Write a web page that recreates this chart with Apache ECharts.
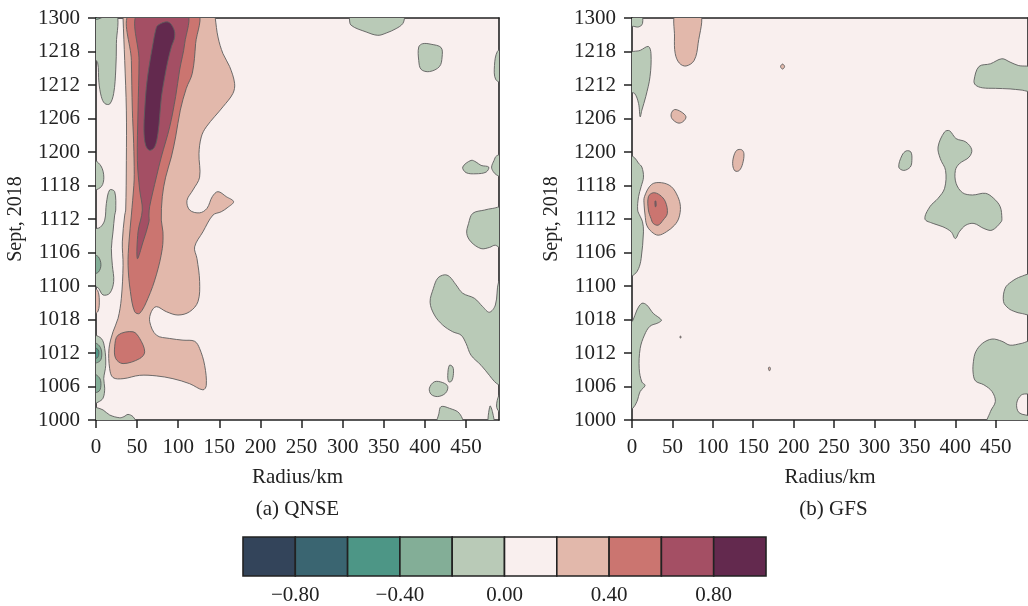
<!DOCTYPE html>
<html>
<head>
<meta charset="utf-8">
<script src="https://cdn.jsdelivr.net/npm/echarts@6/dist/echarts.min.js"></script>
<style>
  html, body { margin: 0; padding: 0; background: #ffffff; }
  #chart { width: 1028px; height: 606px; }
</style>
</head>
<body>
<div id="chart"></div>
<script>
// ---- axes ----
const RADIUS_MAX = 490;                       // km
const RADIUS_TICKS = [0, 50, 100, 150, 200, 250, 300, 350, 400, 450];
const HOURS_MAX = 72;                         // 10 Sept 00 UTC .. 13 Sept 00 UTC
const TIME_LABELS = ['1000', '1006', '1012', '1018', '1100', '1106', '1112',
                     '1118', '1200', '1206', '1212', '1218', '1300'];

// ---- colour levels ----
const LEVEL_BOUNDS = [-1.0, -0.8, -0.6, -0.4, -0.2, 0.0, 0.2, 0.4, 0.6, 0.8, 1.0];
const LEVEL_COLORS = ['#33445a', '#3a6571', '#4d9686', '#83ae97', '#b9cab7',
                      '#f9efee', '#e2b8ab', '#cb7570', '#a44f64', '#63294e'];
const CBAR_LABELS = [-0.8, -0.4, 0.0, 0.4, 0.8];

// ---- (a) QNSE: contour regions, points are [radius km, hours since 1000] ----
const qGreenTop = [[-3,73],[24,73],[24.8,67.4],[24,62.7],[21.5,58.5],[16.7,56.6],[10.6,56.7],[6.5,57.9],[3.5,60.5],[2,64],[-3,65]];
const qTealTop = [[-3,73.5],[10,73.5],[10.5,72.6],[6,72],[-3,71.8]];
const qGreenMid1 = [[-3,46.5],[6,45.5],[9.5,43.5],[6.5,41.8],[-3,41.3]];
const qGreenMid2 = [[16.6,41.2],[22.7,40.9],[24,37.6],[22.7,36.7],[20.7,33.7],[18.7,30.7],[19.9,27.7],[21.5,24.8],[16.7,22.7],[8.5,22.4],[3,23.6],[-3,24.3],[-3,34],[5,34.5],[10.6,35.8],[12.6,38.8]];
const qTealMid = [[-3,29.5],[3,29.2],[6,27.8],[3,26.5],[-3,26.3]];
const qSalmonEdge = [[-3,23.6],[2,23.2],[4,21.5],[2.5,19.5],[-3,19]];
const qGreenLow = [[-3,15],[6.5,14.6],[10.6,12.8],[11.8,9.8],[9.4,7.4],[10.6,5.7],[8.5,3.9],[2.5,3.2],[-3,3]];
const qTealLow1 = [[-3,13.8],[4,13.3],[7,12],[5,10.6],[-3,10.3]];
const qTealLow1b = [[-3,13],[2.5,12.6],[3.5,12],[2,11.2],[-3,11]];
const qTealLow2 = [[-3,8.2],[4,7.6],[6,6.5],[4,5.2],[-3,5]];
const qGreenBottom = [[-3,2.3],[1,2.2],[8.6,1.8],[16.6,0.9],[28.8,0.4],[34,0.6],[38.9,1.0],[45,0.6],[49,-0.3],[52,-1],[-3,-1]];
const qGreenTopRight1 = [[307,73],[308,72],[310.2,70.7],[328.5,69.5],[342.6,68.9],[352.8,69.3],[364.9,70.1],[373,71],[375.5,72.3],[376,73]];
const qGreenTopRight2 = [[392.4,64.4],[392.4,66.8],[397.3,67.4],[407.4,67.3],[419.6,66.7],[420.8,65],[417.6,63.3],[405.4,62.4],[395.3,62.8]];
const qGreenEdge1 = [[495,66.5],[488,66],[484.5,63.5],[486,61],[495,60.5]];
const qGreenMidRight = [[445.9,45.3],[456,46.5],[462.1,46.2],[468.2,45.6],[477.5,45.3],[474.3,44.4],[462.1,44.1],[450,44.3]];
const qGreenEdge2 = [[481,45.3],[484,46.5],[487,47.3],[495,47.5],[495,43.5],[487,43.9],[483,44.5]];
const qGreenEdge3 = [[458,37],[472.2,37.6],[482.4,37.9],[495,38],[495,30.5],[485.6,31.3],[478.3,30.9],[468.2,30.7],[456,31.9],[450.8,33.4],[453,35.2]];
const qGreenBig = [[423.6,26],[415.5,25.4],[410.3,23.6],[406.2,21.1],[411.5,18.8],[421.6,17],[433.8,15.8],[443.9,15.2],[450,13.7],[456,11.6],[468.2,9.8],[478.3,8],[484.4,6.9],[489.6,6.3],[495,6],[495,25],[489.6,24.8],[485.6,20.6],[478.3,19.3],[470.2,20.3],[460.1,21.8],[445.9,22.7],[437.8,24.2],[429.7,25.7]];
const qGreenEll = [[429.7,9.8],[433.8,9.5],[434.6,8.3],[432.5,7.0],[428.9,6.85],[427.7,8.0]];
const qGreenBlob = [[405.4,5.7],[411.5,6.85],[421.6,6.7],[427.7,6.0],[424.9,4.8],[415.5,4.2],[407.4,4.6]];
const qGreenBottomRight = [[417,1.2],[419.6,2.4],[429.7,2.1],[441.8,1.2],[446,-1],[415,-1]];
const qGreenSliver1 = [[477,-1],[479,2.5],[482,1.5],[484,-1]];
const qGreenSliver2 = [[495,5.5],[490,4.5],[487,2.5],[490,1.5],[495,1]];
const qLightSalmon = [[144.2,73],[145,72],[148.3,68.6],[154.4,65.6],[162.5,63.3],[168.5,60.3],[166.5,58.5],[154.4,56.1],[134.1,52.5],[128,50.7],[125.2,47.7],[126,43.5],[117.9,41.2],[110.6,39.3],[113.9,37.6],[126,37.1],[134.9,37.9],[141.4,40],[148.3,40.9],[158.4,40],[167.3,39.1],[160.4,38.1],[152.3,37.3],[142.2,36.7],[130,33.7],[119.9,31],[122.8,28.9],[126,24.8],[124,21.2],[113.9,19.4],[99.7,18.8],[85.5,19.4],[73.4,20.3],[67.3,19.4],[65.3,17.6],[73.4,15.2],[89.6,14.6],[105.8,14.3],[119.9,14.1],[126,12.8],[132.1,9.8],[134.1,6.2],[130,5.4],[113.9,6.5],[93.6,7.4],[73.4,7.9],[53.1,8.0],[32.9,7.4],[20.7,7.6],[16.6,9.2],[15.8,12.8],[20.7,15.8],[26.8,18.2],[30.8,21.8],[32.9,27.7],[32,31.9],[34.9,36.7],[36.1,37.6],[36.9,46.5],[36.9,55.5],[34.9,64.4],[32.9,72],[33,73]];
const qSalmon = [[122.8,73],[121.1,67.4],[117.1,62.1],[109.8,59.4],[102.5,55.5],[96.8,50.7],[91.6,47.1],[84.7,43.5],[80.6,40],[79.4,35.8],[81.4,33.7],[80.6,30.7],[73.4,26],[63.2,21.8],[53.1,19.1],[47,19.4],[41.8,23],[39,27.7],[40.1,31.9],[43,36.7],[46,42],[46.5,44],[45.8,49.5],[44.2,55.5],[43,64.4],[41.8,73]];
const qRose = [[51.1,73],[52.3,64.4],[51.1,55.5],[50.3,46.5],[53.1,41.2],[56.3,37.6],[51.1,33.7],[50.3,28.9],[57.2,31.9],[64.4,35.5],[64.4,36.7],[65.2,38.2],[73.4,43.5],[79.4,47.1],[89.6,52.5],[96.8,57.9],[101.7,62.7],[107.8,67.4],[109.8,73]];
const qPurple = [[75.3,70.7],[87.5,71.3],[94.4,70.1],[95.6,68.6],[91.6,66.8],[87.5,64.4],[83.5,61.4],[79.5,57.8],[77.4,54.3],[75.3,51.3],[71.3,48.9],[65.2,48.3],[60.4,49.2],[58.3,51.9],[59.2,55.5],[61.2,59.6],[64.4,63.2],[69.3,67.4],[72.5,69.8]];
const qSalmonLow = [[22.7,13.1],[26.8,15.2],[45,15.8],[53.1,14.6],[59.2,12.2],[53.1,11.0],[32.9,10.1],[24,11.0]];

// level index (into LEVEL_COLORS) and outline of every filled region, drawn in order
const QNSE_REGIONS = [
  [4, qGreenTop], [3, qTealTop], [4, qGreenMid1], [4, qGreenMid2], [3, qTealMid],
  [6, qSalmonEdge], [4, qGreenLow], [3, qTealLow1], [2, qTealLow1b], [3, qTealLow2],
  [4, qGreenBottom], [4, qGreenTopRight1], [4, qGreenTopRight2], [4, qGreenEdge1],
  [4, qGreenMidRight], [4, qGreenEdge2], [4, qGreenEdge3], [4, qGreenBig], [4, qGreenEll],
  [4, qGreenBlob], [4, qGreenBottomRight], [4, qGreenSliver1], [4, qGreenSliver2],
  [6, qLightSalmon], [7, qSalmon], [8, qRose], [9, qPurple], [7, qSalmonLow]
];

// ---- (b) GFS ----
const gGreenTL = [[-3,73],[11,73],[13,71],[8.1,70.4],[2,70.5],[-3,70.6]];
const gGreenLeft1 = [[-3,65.6],[10.1,66.2],[20.3,66.9],[23.5,65.6],[22.3,61.5],[17,57.9],[12.2,55.5],[10.1,54.3],[8.1,56.7],[3.2,58.5],[-3,58.8]];
const gGreenLeft2 = [[-3,47.3],[3,47],[8,46],[12.2,45.3],[14.2,43.5],[11.3,41.8],[8.1,40],[7,37.6],[10,36.5],[13,35.5],[14.2,33.7],[11.3,28.9],[8.1,27.1],[3.2,26.1],[-3,25.8]];
const gGreenLeft3 = [[-3,17.3],[1,17.8],[6.1,19.7],[12.2,20.9],[18.2,20.6],[26.3,19.1],[36.4,17.9],[32.4,17.4],[22.3,16.8],[15.4,15.2],[10.1,12.8],[8.9,9.2],[12.2,6.8],[16.2,6.2],[10.1,5.1],[6.1,3.3],[1,2.1],[-3,2]];
const gGreenTR = [[423.2,60.8],[429.3,63.3],[443.5,63.8],[457.7,64.7],[467.8,64.1],[477.9,63.5],[495,63],[495,59],[481.5,59.1],[467.8,59.3],[449.6,59.4],[433.4,59.5],[425,60]];
const gGreenSmall = [[330.1,45.3],[334.1,47.4],[339.4,48.2],[345.1,48],[346.3,46.5],[344.3,45.3],[336.2,44.7]];
const gGreenBig = [[378.7,48.9],[386.8,51.6],[392.9,51.8],[401,50.4],[413.1,49.8],[420.4,48.4],[417.2,47.1],[405,45.9],[400.1,44.7],[401,42.4],[409.1,40.7],[421.2,40.3],[437.4,40.6],[447.5,39.7],[455.6,38.2],[457.7,36.1],[456.8,35.5],[445.5,34],[435.4,34.3],[423.2,35.2],[413.1,34.9],[405,33.7],[400.1,32.5],[394.9,33.7],[384.8,34.6],[372.6,35.2],[362.5,36],[368.6,38.2],[378.7,39.7],[386.8,41.5],[388,44.7],[381.5,46.8]];
const gGreenRight = [[459.7,21.2],[461.7,23.6],[469.8,24.8],[481.5,25.7],[495,26],[495,19],[481.5,19.1],[473.9,19.4],[465.8,20]];
const gGreenBottomRight = [[422,8.6],[422.5,10.5],[425.3,12.2],[433.4,13.7],[445.5,14.5],[457.7,14.1],[467.8,13.4],[481.5,13.7],[495,14],[495,5],[482,4.5],[476,3],[479,1.3],[495,0.5],[495,-1],[439.4,-1],[443.5,1.5],[449.6,3.3],[445.5,5.1],[435.4,6.3],[425,7]];
const gLS1 = [[54.7,73],[52.6,68.6],[53.5,65.6],[58.7,63.9],[66.8,63.4],[76.9,64.4],[81.8,67.4],[84.2,73]];
const gLS2 = [[48.6,54.9],[52.6,55.6],[60.8,55.2],[66.8,54.3],[62.8,53.4],[56.7,53.2],[49.4,54]];
const gLS3 = [[183.8,63.3],[186.3,63.75],[188.8,63.3],[186.3,62.85]];
const gLS4 = [[125.6,47.1],[129.6,48.3],[135.7,48.4],[138.5,47.7],[136.9,45.9],[132.8,44.7],[127.6,44.6],[124.7,45.6]];
const gLS5 = [[15.4,40],[24.3,42.2],[36.5,42.5],[48.6,41.8],[56.7,40],[59.9,38.2],[58,36.2],[52.7,34.9],[42.5,33.7],[32.4,33.1],[24.3,33.7],[18.2,34.9],[16.2,36.7],[15,38.5]];
const gS5 = [[20.3,40],[26.3,40.7],[34.4,40.3],[41.3,39.1],[43.7,37],[38.5,35.8],[32.4,34.9],[26.3,35.2],[23.5,36.1],[20.3,37.6]];
const gR5 = [[28.5,39.2],[29.5,39.2],[29.8,38.3],[28.8,38.2]];
const gDot1 = [[59.5,15],[60.5,15],[60.5,14.7],[59.5,14.7]];
const gDot2 = [[168.8,9.3],[170.1,9.5],[171.3,9.2],[170.1,8.8]];

const GFS_REGIONS = [
  [4, gGreenTL], [4, gGreenLeft1], [4, gGreenLeft2], [4, gGreenLeft3], [4, gGreenTR],
  [4, gGreenSmall], [4, gGreenBig], [4, gGreenRight], [4, gGreenBottomRight],
  [6, gLS1], [6, gLS2], [6, gLS3], [6, gLS4], [6, gLS5], [7, gS5], [8, gR5],
  [6, gDot1], [6, gDot2]
];

// ---- styling ----
const FONT = '"Liberation Serif", "Times New Roman", serif';
const INK = '#222222';
const textStyle = { fontFamily: FONT, fontSize: 21, color: INK };

function contourSeries(regions, axisIdx) {
  return {
    type: 'custom',
    xAxisIndex: axisIdx.x,
    yAxisIndex: axisIdx.y,
    coordinateSystem: 'cartesian2d',
    clip: true,
    silent: true,
    data: regions.map((_, i) => i),
    renderItem: (params, api) => {
      const reg = regions[params.dataIndex];
      const pts = reg[1].map(p => api.coord(p));
      return {
        type: 'polygon',
        shape: { points: pts, smooth: 0.35 },
        style: { fill: LEVEL_COLORS[reg[0]], stroke: '#5e5e5e', lineWidth: 0.9 }
      };
    }
  };
}

function panelAxes(gridIndex) {
  const line = { show: true, onZero: false, lineStyle: { color: INK, width: 1.6 } };
  return {
    x: [
      {
        type: 'value', gridIndex, min: 0, max: RADIUS_MAX, interval: 50,
        name: 'Radius/km', nameLocation: 'middle', nameGap: 47, nameTextStyle: textStyle,
        axisLine: line,
        axisTick: { show: true, length: 8, inside: false, customValues: RADIUS_TICKS, lineStyle: { color: INK, width: 1.5 } },
        axisLabel: { customValues: RADIUS_TICKS, margin: 17, ...textStyle,
                     formatter: v => (RADIUS_TICKS.indexOf(v) >= 0 ? String(v) : '') },
        splitLine: { show: false }
      },
      {
        type: 'value', gridIndex, position: 'top', min: 0, max: RADIUS_MAX,
        axisLine: line, axisTick: { show: false }, axisLabel: { show: false }, splitLine: { show: false }
      }
    ],
    y: [
      {
        type: 'value', gridIndex, min: 0, max: HOURS_MAX, interval: 6,
        name: 'Sept, 2018', nameLocation: 'middle', nameGap: 70,
        nameTextStyle: { fontFamily: FONT, fontSize: 20, color: INK },
        axisLine: line,
        axisTick: { show: true, length: 8, lineStyle: { color: INK, width: 1.5 } },
        axisLabel: { margin: 16, ...textStyle, formatter: v => TIME_LABELS[Math.round(v / 6)] || '' },
        splitLine: { show: false }
      },
      {
        type: 'value', gridIndex, position: 'right', min: 0, max: HOURS_MAX,
        axisLine: line, axisTick: { show: false }, axisLabel: { show: false }, splitLine: { show: false }
      }
    ]
  };
}

const axA = panelAxes(0);
const axB = panelAxes(1);

function cbarLabel(v) {
  const k = Math.round(v * 10);
  if (!CBAR_LABELS.some(c => Math.round(c * 10) === k)) return '';
  return (k < 0 ? '\u2212' : '') + Math.abs(k / 10).toFixed(2);
}

const option = {
  animation: false,
  backgroundColor: '#ffffff',
  grid: [
    { left: 96, top: 18, width: 403, height: 402, show: true, backgroundColor: LEVEL_COLORS[5], borderWidth: 0 },
    { left: 632, top: 18, width: 403, height: 402, show: true, backgroundColor: LEVEL_COLORS[5], borderWidth: 0 },
    { left: 243, top: 537, width: 523, height: 39 }
  ],
  xAxis: [
    ...axA.x, ...axB.x,
    {
      type: 'value', gridIndex: 2, min: -1, max: 1, interval: 0.2,
      axisLine: { show: false }, axisTick: { show: false }, splitLine: { show: false },
      axisLabel: { customValues: CBAR_LABELS, margin: 9, ...textStyle, formatter: cbarLabel }
    }
  ],
  yAxis: [
    ...axA.y, ...axB.y,
    { type: 'value', gridIndex: 2, min: 0, max: 1, show: false }
  ],
  graphic: [
    { type: 'text', x: 297.5, y: 509, style: { text: '(a) QNSE', font: '21px ' + FONT, fill: INK, textAlign: 'center', textVerticalAlign: 'middle' } },
    { type: 'text', x: 833.5, y: 509, style: { text: '(b) GFS', font: '21px ' + FONT, fill: INK, textAlign: 'center', textVerticalAlign: 'middle' } }
  ],
  series: [
    contourSeries(QNSE_REGIONS, { x: 0, y: 0 }),
    contourSeries(GFS_REGIONS, { x: 2, y: 2 }),
    {
      type: 'custom',
      xAxisIndex: 4, yAxisIndex: 4,
      silent: true,
      data: LEVEL_COLORS.map((_, i) => i),
      renderItem: (params, api) => {
        const i = params.dataIndex;
        const p0 = api.coord([LEVEL_BOUNDS[i], 1]);
        const p1 = api.coord([LEVEL_BOUNDS[i + 1], 0]);
        return {
          type: 'rect',
          shape: { x: p0[0], y: p0[1], width: p1[0] - p0[0], height: p1[1] - p0[1] },
          style: { fill: LEVEL_COLORS[i], stroke: INK, lineWidth: 1.6 }
        };
      }
    }
  ]
};

const chart = echarts.init(document.getElementById('chart'), null, { renderer: 'canvas' });
chart.setOption(option);
</script>
</body>
</html>
